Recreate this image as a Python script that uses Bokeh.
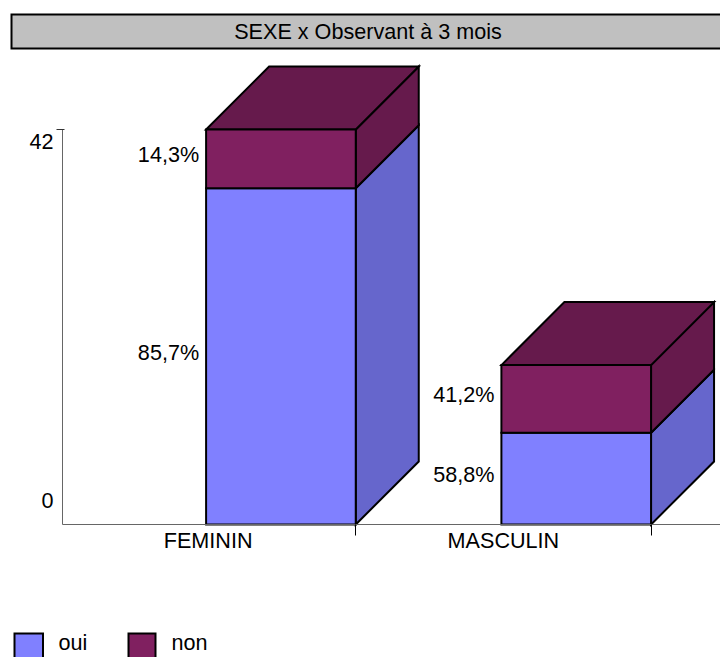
from bokeh.plotting import figure
from bokeh.models import Range1d, FixedTicker, ColumnDataSource
from bokeh.embed import file_html
from bokeh.resources import INLINE

title_text = "SEXE x Observant à 3 mois"
categories = ["FEMININ", "MASCULIN"]
series_names = ["oui", "non"]
oui_values = [35.75, 9.75]
non_values = [6.25, 7.2]
oui_labels = ["85,7%", "58,8%"]
non_labels = ["14,3%", "41,2%"]
axis_ticks = [0, 42]

FONT = "Liberation Sans"
FS = "21.6px"
OUI, OUI_SIDE = "#8080FF", "#6666CC"
NON, NON_SIDE = "#802060", "#661A4C"
WIDTH, HEIGHT = 720, 657

# scales: pixel layout of the plot
PX_PER_BAND = 295.3
PX_PER_UNIT = 395 / 42
X0_PX = 207.6  # first category centre
Y0_PX = 524    # value zero
AXIS_PX = 62


def dx(px):
    return (px - X0_PX) / PX_PER_BAND


def dy(px):
    return (Y0_PX - px) / PX_PER_UNIT


BAR_LEFT = -2 / PX_PER_BAND
BAR_RIGHT = 0.5
DX = 63 / PX_PER_BAND
DY = 63 / PX_PER_UNIT

p = figure(width=WIDTH, height=HEIGHT, output_backend="svg", toolbar_location=None,
           x_range=Range1d(dx(0), dx(WIDTH)), y_range=Range1d(dy(HEIGHT), dy(0)),
           min_border_left=0, min_border_right=0, min_border_top=0, min_border_bottom=0)
p.outline_line_color = None
p.grid.visible = False
p.background_fill_color = "white"

idx = list(range(len(categories)))
lefts = [i + BAR_LEFT for i in idx]
rights = [i + BAR_RIGHT for i in idx]
tops = [a + b for a, b in zip(oui_values, non_values)]


def face(xs, ys, color):
    p.patches(xs, ys, fill_color=color, line_color="black", line_width=2, line_join="miter")


def text(x, y, t, align="right", **kw):
    p.text(x=x, y=y, text=t, text_align=align, text_baseline="middle", text_color="black",
           text_font={"value": FONT}, text_font_size={"value": FS}, **kw)


def box(**kw):
    p.quad(line_color="black", line_width=2, line_join="miter", **kw)


# title banner
box(left=[dx(11)], right=[dx(WIDTH + 10)], top=[dy(14)], bottom=[dy(48)], fill_color="#C0C0C0")
text([dx(367.5)], [dy(30.5)], [title_text], align="center")

# 3D side and top faces, derived from the values
face([[r, r + DX, r + DX, r] for r in rights],
     [[0, DY, a + DY, a] for a in oui_values], OUI_SIDE)
face([[r, r + DX, r + DX, r] for r in rights],
     [[a, a + DY, t + DY, t] for a, t in zip(oui_values, tops)], NON_SIDE)
face([[l, l + DX, r + DX, r] for l, r in zip(lefts, rights)],
     [[t, t + DY, t + DY, t] for t in tops], NON_SIDE)

oui_src = ColumnDataSource(dict(left=lefts, right=rights, bottom=[0, 0], top=oui_values))
non_src = ColumnDataSource(dict(left=lefts, right=rights, bottom=oui_values, top=tops))
box(left="left", right="right", bottom="bottom", top="top", source=oui_src, fill_color=OUI)
box(left="left", right="right", bottom="bottom", top="top", source=non_src, fill_color=NON)

# percentage labels
text(lefts + lefts,
     [v / 2 for v in oui_values] + [a + b / 2 for a, b in zip(oui_values, non_values)],
     oui_labels + non_labels, x_offset=-7, y_offset=-4)

# value-axis labels sit inside the axis extent, as in the source chart
text([dx(53), dx(53)], [axis_ticks[1], axis_ticks[0]], [str(axis_ticks[1]), str(axis_ticks[0])])
p.renderers[-1].glyph.y_offset = {"field": "yo"}
p.renderers[-1].data_source.data["yo"] = [12, -24]

# axes drawn inside the frame
xa = p.xaxis[0]
xa.fixed_location = 0
xa.bounds = (dx(AXIS_PX), dx(WIDTH))
xa.ticker = FixedTicker(ticks=idx, minor_ticks=rights)
xa.major_label_overrides = {i: c for i, c in zip(idx, categories)}
xa.major_tick_line_color = None
xa.major_tick_out = 0
xa.major_tick_in = 0
xa.minor_tick_out = 11
xa.minor_tick_in = 0
xa.minor_tick_line_color = "black"
xa.minor_tick_line_width = 1
xa.axis_line_color = "#666666"
xa.major_label_standoff = -8
xa.major_label_text_font = FONT
xa.major_label_text_font_size = FS
xa.major_label_text_color = "black"

ya = p.yaxis[0]
ya.fixed_location = dx(AXIS_PX)
ya.ticker = FixedTicker(ticks=[axis_ticks[1]])
ya.bounds = (axis_ticks[0], axis_ticks[1])
ya.major_label_overrides = {axis_ticks[1]: ""}
ya.major_tick_in = 2
ya.major_tick_out = 6
ya.minor_tick_line_color = None
ya.major_tick_line_color = "#333333"
ya.axis_line_color = "#666666"

# legend, drawn by hand so the swatches run off the page edge as in the source
box(left=[dx(14)], right=[dx(42.5)], top=[dy(633)], bottom=[dy(HEIGHT + 6)], fill_color=OUI)
box(left=[dx(128)], right=[dx(155)], top=[dy(633)], bottom=[dy(HEIGHT + 6)], fill_color=NON)
text([dx(58), dx(171)], [dy(642), dy(642)], series_names, align="left")

open("out.html", "w").write(file_html(p, INLINE))
